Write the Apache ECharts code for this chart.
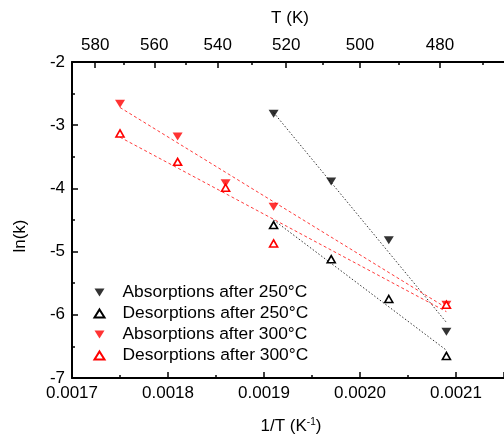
<!DOCTYPE html>
<html>
<head>
<meta charset="utf-8">
<script src="https://cdn.jsdelivr.net/npm/echarts@6/dist/echarts.min.js"></script>
<style>
html,body{margin:0;padding:0;background:#fff;}
#chart{width:504px;height:436px;}
</style>
</head>
<body>
<div id="chart"></div>
<script>
// ---- data ----
var seriesNames = ['Absorptions after 250°C', 'Desorptions after 250°C', 'Absorptions after 300°C', 'Desorptions after 300°C'];

var absX250 = [0.00191, 0.00197, 0.00203, 0.00209];
var absY250 = [-2.82, -3.89, -4.82, -6.27];
var desX250 = [0.00191, 0.00197, 0.00203, 0.00209];
var desY250 = [-4.58, -5.12, -5.75, -6.65];

var absX300 = [0.00175, 0.00181, 0.00186, 0.00191, 0.00209];
var absY300 = [-2.66, -3.18, -3.92, -4.29, -5.84];
var desX300 = [0.00175, 0.00181, 0.00186, 0.00191, 0.00209];
var desY300 = [-3.13, -3.58, -3.99, -4.87, -5.84];

// fitted lines (end points)
var fitAbs250 = [[0.00191, -2.80], [0.00209, -6.12]];
var fitDes250 = [[0.00191, -4.50], [0.00209, -6.56]];
var fitAbs300 = [[0.00175, -2.72], [0.00209, -5.89]];
var fitDes300 = [[0.00175, -3.19], [0.00209, -5.95]];

// top axis temperatures (K)
var topMajorT = [580, 560, 540, 520, 500, 480];
var topMinorT = [570, 550, 530, 510, 490, 470];

function pairs(xs, ys) { return xs.map(function (x, i) { return [x, ys[i]]; }); }

var FONT = 'Liberation Sans, Arial, sans-serif';
var DOWN = 'path://M0,0L10,0L5,8Z';
var UP = 'path://M5,0L10,8L0,8Z';

var chart = echarts.init(document.getElementById('chart'), null, {renderer: 'canvas'});

var axisLine = {show: true, lineStyle: {color: '#000', width: 2}};
var TICKC = '#000';

var option = {
  backgroundColor: '#fff',
  animation: false,
  grid: {left: 72, right: -3.6, top: 62, bottom: 58, containLabel: false},
  legend: {
    data: [
      {name: seriesNames[0], icon: DOWN},
      {name: seriesNames[1], icon: UP},
      {name: seriesNames[2], icon: DOWN},
      {name: seriesNames[3], icon: UP}
    ],
    orient: 'vertical',
    left: 88.5,
    top: 279,
    itemWidth: 36,
    itemHeight: 8,
    itemGap: 4,
    symbolKeepAspect: true,
    textStyle: {fontFamily: FONT, fontSize: 17.4, color: '#000'}
  },
  xAxis: [
    {
      type: 'value', position: 'bottom', min: 0.0017, max: 0.00215, interval: 0.0001,
      axisLine: axisLine,
      axisTick: {show: true, inside: true, length: 6, lineStyle: {color: TICKC, width: 1.5}},
      minorTick: {show: true, splitNumber: 2, length: 3, lineStyle: {color: TICKC, width: 1.5}},
      splitLine: {show: false},
      axisLabel: {show: true, margin: 7, fontFamily: FONT, fontSize: 17, color: '#000', showMaxLabel: false,
        formatter: function (v) { return v.toFixed(4); }}
    },
    {
      type: 'value', position: 'top', min: 0.0017, max: 0.00215,
      axisLine: axisLine,
      axisTick: {show: true, inside: true, length: 6, lineStyle: {color: TICKC, width: 1.5},
        customValues: topMajorT.map(function (t) { return 1 / t; })},
      splitLine: {show: false},
      axisLabel: {show: true, margin: 8, fontFamily: FONT, fontSize: 17, color: '#000',
        customValues: topMajorT.map(function (t) { return 1 / t; }),
        formatter: function (v) { return String(Math.round(1 / v)); }}
    },
    {
      type: 'value', position: 'top', min: 0.0017, max: 0.00215,
      axisLine: {show: false},
      axisTick: {show: true, inside: true, length: 3, lineStyle: {color: TICKC, width: 1.5},
        customValues: topMinorT.map(function (t) { return 1 / t; })},
      splitLine: {show: false},
      axisLabel: {show: false}
    }
  ],
  yAxis: [{
    type: 'value', min: -7, max: -2, interval: 1,
    axisLine: axisLine,
    axisTick: {show: true, inside: true, length: 6, lineStyle: {color: TICKC, width: 1.5}},
    minorTick: {show: true, splitNumber: 2, length: 3, lineStyle: {color: TICKC, width: 1.5}},
    splitLine: {show: false},
    axisLabel: {margin: 7, fontFamily: FONT, fontSize: 17, color: '#000'}
  }],
  graphic: [
    {type: 'text', x: 290, y: 18, style: {text: 'T (K)', font: '17px ' + FONT, fill: '#000', align: 'center', verticalAlign: 'middle'}},
    {type: 'text', x: 291, y: 426, style: {text: '1/T (K{sup|-1})', font: '17px ' + FONT, fill: '#000', align: 'center', verticalAlign: 'middle',
      rich: {sup: {fontSize: 10, fontFamily: FONT, verticalAlign: 'top', fill: '#000'}}}},
    {type: 'text', x: 20, y: 236, rotation: Math.PI / 2, style: {text: 'ln(k)', font: '17px ' + FONT, fill: '#000', align: 'center', verticalAlign: 'middle'}}
  ],
  series: [
    {type: 'line', data: fitAbs250, symbol: 'none', silent: true, z: 1, lineStyle: {color: '#333', width: 1, type: [1.5, 2]}},
    {type: 'line', data: fitDes250, symbol: 'none', silent: true, z: 1, lineStyle: {color: '#333', width: 1, type: [1.5, 2]}},
    {type: 'line', data: fitAbs300, symbol: 'none', silent: true, z: 1, lineStyle: {color: '#ff3a3a', width: 1, type: [3, 2.5]}},
    {type: 'line', data: fitDes300, symbol: 'none', silent: true, z: 1, lineStyle: {color: '#ff3a3a', width: 1, type: [3, 2.5]}},
    {name: seriesNames[0], type: 'scatter', data: pairs(absX250, absY250), symbol: DOWN, symbolSize: [10, 8], z: 3,
      itemStyle: {color: '#000'}},
    {name: seriesNames[1], type: 'scatter', data: pairs(desX250, desY250), symbol: UP, symbolSize: [8, 7], z: 3,
      itemStyle: {color: '#fff', borderColor: '#000', borderWidth: 1.6, opacity: 1}},
    {name: seriesNames[2], type: 'scatter', data: pairs(absX300, absY300), symbol: DOWN, symbolSize: [10, 8], z: 3,
      itemStyle: {color: '#ff0000'}},
    {name: seriesNames[3], type: 'scatter', data: pairs(desX300, desY300), symbol: UP, symbolSize: [8, 7], z: 3,
      itemStyle: {color: '#fff', borderColor: '#ff0000', borderWidth: 1.6, opacity: 1}}
  ]
};
chart.setOption(option);
</script>
</body>
</html>
